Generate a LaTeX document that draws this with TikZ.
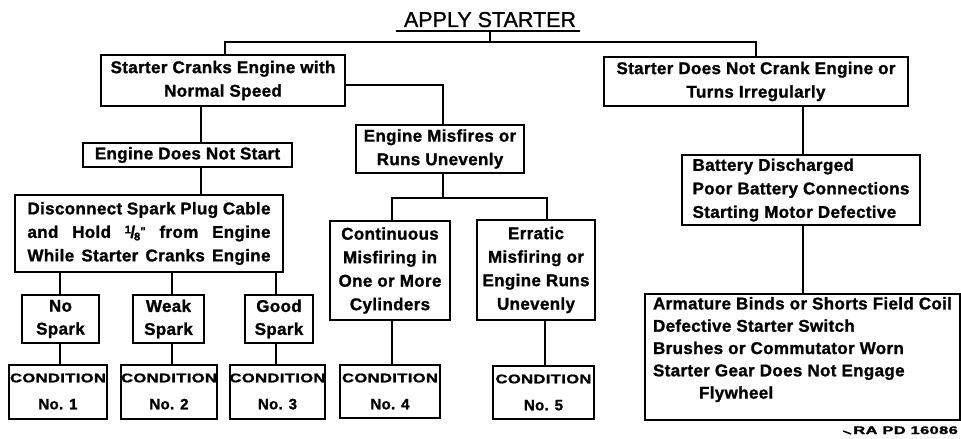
\documentclass[tikz,border=0pt]{standalone}
\usepackage{fontspec}
\usepackage{graphicx}
\setmainfont{Liberation Sans}[LetterSpace=2, BoldFeatures={FakeBold=1.2}]
\newfontfamily\titlefont{Liberation Sans}[FakeBold=1]
\newcommand\mainsz{\bfseries\fontsize{17}{23.5}\selectfont}
\newcommand\condline{{\fontsize{12.5}{27}\selectfont\scalebox{1.33}[1]{CONDITION}}}
\begin{document}
\begin{tikzpicture}[x=1pt,y=-1pt,
  box/.style={draw, line width=2pt, inner sep=0pt, align=center, font=\mainsz},
  condbox/.style={draw, line width=2pt, inner sep=0pt, align=center, minimum height=54,
    font=\bfseries\fontsize{15}{27}\selectfont},
  conn/.style={line width=2pt}]
\useasboundingbox (0,0) rectangle (961,439);
% title
\node[font=\titlefont\fontsize{21.5}{24}\selectfont, inner sep=0pt, anchor=base] (T) at (490,27) {APPLY STARTER};
\coordinate (ul) at ([yshift=-4pt]T.base);
\coordinate (j0) at (490,42);
\draw[conn] ([xshift=-94pt]ul) -- ([xshift=90pt]ul);
% level 1
\node[box, minimum width=244, minimum height=51] (A) at (223,80.5) {Starter Cranks Engine with\\Normal Speed};
\node[box, minimum width=304, minimum height=49] (B) at (756,81.5) {Starter Does Not Crank Engine or\\Turns Irregularly};
% left branch
\node[box, minimum width=209, minimum height=24] (ENS) at (187.5,155) {Engine Does Not Start};
\node[box, minimum width=268, minimum height=77] (D) at (149,233.5)
 {\makebox[243pt][s]{Disconnect Spark Plug Cable}\\
  \makebox[243pt][s]{and Hold \raisebox{4.5pt}{\fontsize{11}{11}\selectfont 1}\kern-0.5pt/\kern-1pt\raisebox{-2.5pt}{\fontsize{11}{11}\selectfont 8}\raisebox{3pt}{\fontsize{11}{11}\selectfont "} from Engine}\\
  \makebox[243pt][s]{While Starter Cranks Engine}};
\node[box, minimum width=77, minimum height=48, font=\bfseries\fontsize{17}{23}\selectfont] (NS) at (60.5,319) {No\\Spark};
\node[box, minimum width=71, minimum height=48, font=\bfseries\fontsize{17}{23}\selectfont] (WS) at (168.5,319) {Weak\\Spark};
\node[box, minimum width=68, minimum height=48, font=\bfseries\fontsize{17}{23}\selectfont] (GS) at (279,319) {Good\\Spark};
\node[condbox, minimum width=98] (C1) at (58,391.5) {\condline\\No. 1};
\node[condbox, minimum width=96] (C2) at (169,391.5) {\condline\\No. 2};
\node[condbox, minimum width=95] (C3) at (277.5,391.5) {\condline\\No. 3};
% middle branch
\node[box, minimum width=168, minimum height=48] (EM) at (440,149) {Engine Misfires or\\Runs Unevenly};
\node[box, minimum width=120, minimum height=99] (CM) at (390,270.5) {Continuous\\Misfiring in\\One or More\\Cylinders};
\node[box, minimum width=118, minimum height=100] (ER) at (536,270) {Erratic\\Misfiring or\\Engine Runs\\Unevenly};
\node[condbox, minimum width=100, minimum height=53] (C4) at (390,391.5) {\condline\\No. 4};
\node[condbox, minimum width=101, minimum height=53] (C5) at (543.5,392.5) {\condline\\No. 5};
% right branch
\node[box, minimum width=238, minimum height=70, align=left] (BAT) at (801,190)
 {Battery Discharged\\Poor Battery Connections\\Starting Motor Defective};
\node[box, minimum width=315, minimum height=126, align=left, font=\bfseries\fontsize{17}{22.3}\selectfont] (BIG) at (802.5,357)
 {Armature Binds or Shorts Field Coil\\Defective Starter Switch\\Brushes or Commutator Worn\\Starter Gear Does Not Engage\\\hspace*{46pt}Flywheel\\[-4pt]\mbox{}};
% label
\node[anchor=base east, inner sep=0pt, font=\bfseries\fontsize{11}{12}\selectfont] (L) at (958,434) {\scalebox{1.5}[1]{RA PD 16086}};
\draw[line width=1.5pt] ([xshift=-10pt,yshift=3pt]L.base west) -- ([xshift=-2pt,yshift=0pt]L.base west);
% connectors
\draw[conn] (ul) -- (ul |- j0);
\draw[conn] ([xshift=2pt]A.north) |- (j0) -| (B.north);
\draw[conn] ([yshift=-4.5pt]A.east) -| ([xshift=3pt]EM.north);
\coordinate (s1) at (201,0);
\draw[conn] (s1 |- A.south) -- (s1 |- ENS.north);
\draw[conn] (s1 |- ENS.south) -- (s1 |- D.north);
\draw[conn] ([xshift=-0.5pt]NS.north |- D.south) -- ([xshift=-0.5pt]NS.north);
\draw[conn] ([xshift=3.5pt]WS.north |- D.south) -- ([xshift=3.5pt]WS.north);
\draw[conn] ([xshift=-3pt]GS.north |- D.south) -- ([xshift=-3pt]GS.north);
\draw[conn] ([xshift=-0.5pt]NS.south) -- ([xshift=-0.5pt]NS.south |- C1.north);
\draw[conn] ([xshift=3.5pt]WS.south) -- ([xshift=3.5pt]WS.south |- C2.north);
\draw[conn] ([xshift=-3pt]GS.south) -- ([xshift=-3pt]GS.south |- C3.north);
\coordinate (j2) at (443,198);
\draw[conn] ([xshift=3pt]EM.south) -- (j2);
\draw[conn] ([xshift=2pt]CM.north) |- (j2) -| ([xshift=11pt]ER.north);
\draw[conn] ([xshift=2pt]CM.south) -- ([xshift=2pt]CM.south |- C4.north);
\draw[conn] ([xshift=9pt]ER.south) -- ([xshift=9pt]ER.south |- C5.north);
\draw[conn] ([xshift=2pt]BAT.north) -- ([xshift=2pt]BAT.north |- B.south);
\draw[conn] ([xshift=2pt]BAT.south) -- ([xshift=2pt]BAT.south |- BIG.north);
\end{tikzpicture}
\end{document}
